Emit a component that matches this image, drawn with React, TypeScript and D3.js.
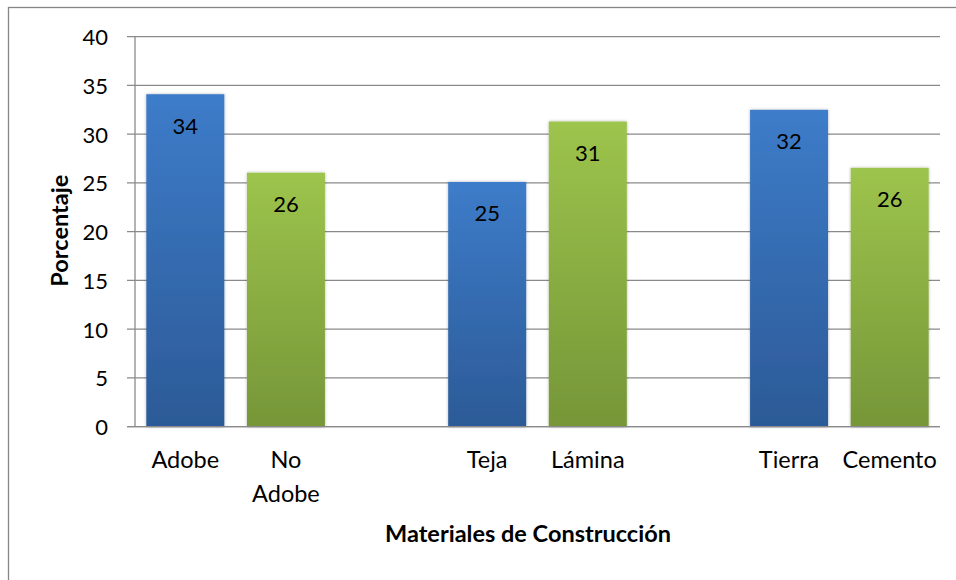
import React from "react";
import * as d3 from "d3";

const categories = ["Adobe", "No Adobe", "gap1", "Teja", "Lámina", "gap2", "Tierra", "Cemento"];
const categoryLines: string[][] = [["Adobe"], ["No", "Adobe"], [], ["Teja"], ["Lámina"], [], ["Tierra"], ["Cemento"]];
const seriesOf = [0, 1, -1, 0, 1, -1, 0, 1];
const values = [34.1, 26.05, null, 25.1, 31.3, null, 32.5, 26.55];
const valueLabels = ["34", "26", "", "25", "31", "", "32", "26"];
const yTicks = [0, 5, 10, 15, 20, 25, 30, 35, 40];
const yTitle = "Porcentaje";
const xTitle = "Materiales de Construcción";

const W = 956;
const H = 580;
const left = 135;
const right = 940;
const top = 36.7;
const bottom = 426.7;
const font = "Lato, 'Open Sans', sans-serif";

export default function App() {
  const x = d3.scaleBand<string>().domain(categories).range([left, right]).paddingInner(0.225).paddingOuter(0.1125);
  const y = d3.scaleLinear().domain([0, 40]).range([bottom, top]);
  const grid = "#8a8a8a";
  return (
    <svg width={W} height={H} style={{ position: "absolute", left: 0, top: 0 }}>
      <defs>
        <linearGradient id="gBlue" x1="0" y1="0" x2="0" y2="1">
          <stop offset="0" stopColor="#3d7cc9" />
          <stop offset="1" stopColor="#2c5a97" />
        </linearGradient>
        <linearGradient id="gGreen" x1="0" y1="0" x2="0" y2="1">
          <stop offset="0" stopColor="#9dc44c" />
          <stop offset="1" stopColor="#769638" />
        </linearGradient>
        <filter id="sh" x="-20%" y="-10%" width="140%" height="120%">
          <feDropShadow dx="0" dy="0" stdDeviation="1.6" floodColor="#000" floodOpacity="0.3" />
        </filter>
      </defs>
      <rect x={0} y={0} width={W} height={H} fill="#fff" />
      <rect x={8.5} y={7.5} width={W + 20} height={H + 20} fill="none" stroke="#868686" strokeWidth={1.3} />
      {yTicks.map((t) => (
        <g key={t}>
          <line x1={127} x2={right} y1={y(t)} y2={y(t)} stroke={grid} strokeWidth={1.3} />
          <text x={108} y={y(t)} textAnchor="end" dominantBaseline="central" fontFamily={font} fontSize={22} fill="#000">
            {t}
          </text>
        </g>
      ))}
      <line x1={left} x2={left} y1={top} y2={bottom} stroke={grid} strokeWidth={1.3} />
      {categories.map((c, i) => {
        const v = values[i];
        if (v == null) return null;
        const bx = x(c)!;
        const bw = x.bandwidth();
        return (
          <g key={c}>
            <rect
              x={bx}
              y={y(v)}
              width={bw}
              height={y(0) - y(v)}
              fill={seriesOf[i] === 0 ? "url(#gBlue)" : "url(#gGreen)"}
              filter="url(#sh)"
            />
            <text x={bx + bw / 2} y={y(v) + 31} textAnchor="middle" dominantBaseline="central" fontFamily={font} fontSize={22} fill="#000">
              {valueLabels[i]}
            </text>
          </g>
        );
      })}
      <line x1={127} x2={right} y1={bottom} y2={bottom} stroke={grid} strokeWidth={1.3} />
      {categories.map((c, i) => (
        <text key={c} x={x(c)! + x.bandwidth() / 2} y={468} textAnchor="middle" fontFamily={font} fontSize={23.5} fill="#000">
          {categoryLines[i].map((ln, j) => (
            <tspan key={j} x={x(c)! + x.bandwidth() / 2} dy={j === 0 ? 0 : 33.5}>
              {ln}
            </tspan>
          ))}
        </text>
      ))}
      <text x={528} y={542} textAnchor="middle" fontFamily={font} fontSize={23.5} fontWeight="bold" fill="#000">
        {xTitle}
      </text>
      <text
        transform={`translate(67.5, ${(top + bottom) / 2 - 1}) rotate(-90)`}
        textAnchor="middle"
        fontFamily={font}
        fontSize={23.5}
        fontWeight="bold"
        fill="#000"
      >
        {yTitle}
      </text>
    </svg>
  );
}
